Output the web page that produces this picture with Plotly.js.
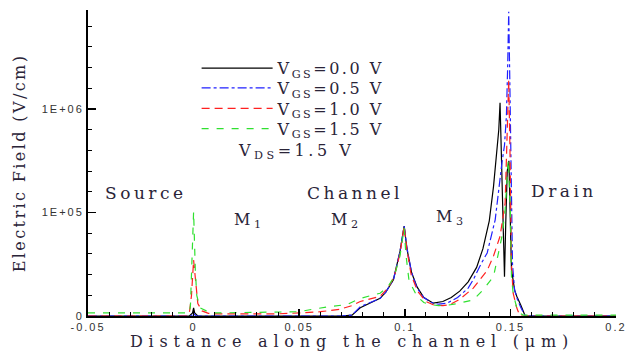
<!DOCTYPE html>
<html>
<head>
<meta charset="utf-8">
<script src="https://cdn.plot.ly/plotly-3.0.1.min.js"></script>
<style>
  html, body { margin: 0; padding: 0; background: #fff; }
  #chart { width: 637px; height: 351px; }
  .xtitle { letter-spacing: 5.8px; }
  .ytitle { letter-spacing: 2.4px; }
  .annotation-text { letter-spacing: 3.5px; }
  .legendtext, [class*="legend"] text { letter-spacing: 2.5px; }
  .xtick text, .ytick text { letter-spacing: 2px; }
</style>
</head>
<body>
<div id="chart"></div>
<script>
// Distance along the channel (um) and electric field (V/cm) for each gate bias
const x_vgs00 = [-0.05, -0.002, -0.0005, 0, 0.0005, 0.002, 0.07, 0.075, 0.0789, 0.0883, 0.091, 0.0946, 0.0977, 0.0997,
  0.101, 0.1032, 0.1058, 0.109, 0.1135, 0.118, 0.122, 0.126, 0.13, 0.134, 0.137, 0.14, 0.142,
  0.1435, 0.1445, 0.1451, 0.1458, 0.1465, 0.1472, 0.1478, 0.1485, 0.1493, 0.1505, 0.152, 0.153, 0.155, 0.157, 0.2];
const e_vgs00 = [1e4, 1e4, 1.07e4, 1.2e4, 1.07e4, 1e4, 1e4, 1.02e4, 1.2e4, 1.48e4, 1.7e4, 2.24e4, 4.17e4, 7.41e4,
  4.47e4, 2.63e4, 1.91e4, 1.51e4, 1.33e4, 1.38e4, 1.51e4, 1.74e4, 2.14e4, 2.95e4, 4.47e4, 8.32e4, 1.78e5,
  3.55e5, 6.31e5, 1.15e6, 3.16e5, 6.31e4, 2.4e4, 7.94e4, 2.51e5, 3.16e5, 2.82e4, 1.78e4, 1.55e4, 1.26e4, 1e4, 1e4];

const x_vgs05 = [-0.05, -0.001, 0, 0.001, 0.07, 0.075, 0.0789, 0.0883, 0.091, 0.0946, 0.0977, 0.0997,
  0.101, 0.1032, 0.1058, 0.109, 0.1125, 0.116, 0.12, 0.125, 0.13,
  0.1324, 0.136, 0.139, 0.1428, 0.1451, 0.146, 0.1472, 0.1481, 0.1487, 0.1492,
  0.1497, 0.1502, 0.151, 0.152, 0.1535, 0.155, 0.157, 0.2];
const e_vgs05 = [1e4, 1e4, 1.07e4, 1e4, 1e4, 1.02e4, 1.23e4, 1.48e4, 1.7e4, 2.24e4, 4.17e4, 7.41e4,
  4.57e4, 2.63e4, 1.86e4, 1.51e4, 1.35e4, 1.3e4, 1.33e4, 1.51e4, 1.86e4,
  2.24e4, 3.16e4, 4.07e4, 8.51e4, 2.19e5, 3.02e5, 4.47e5, 8.51e5, 2.51e6, 8.71e6,
  2.0e6, 3.16e5, 3.16e4, 1.78e4, 1.41e4, 1.2e4, 1e4, 1e4];

const x_vgs10 = [-0.05, -0.003, -0.002, -0.001, 0, 0.001, 0.002, 0.004, 0.007, 0.01,
  0.04, 0.05, 0.06, 0.069, 0.075, 0.0789, 0.0883, 0.092, 0.095, 0.0977,
  0.0997, 0.101, 0.103, 0.106, 0.11, 0.114, 0.118, 0.1214, 0.126, 0.1324,
  0.136, 0.139, 0.142, 0.1451, 0.1475, 0.148, 0.1488, 0.1492, 0.1498, 0.1505,
  0.1513, 0.153, 0.1545, 0.2];
const e_vgs10 = [1e4, 1e4, 1.07e4, 1.58e4, 3.47e4, 2.0e4, 1.32e4, 1.12e4, 1.06e4, 1.05e4,
  1.05e4, 1.07e4, 1.1e4, 1.16e4, 1.26e4, 1.38e4, 1.55e4, 1.86e4, 2.4e4, 3.98e4,
  7.41e4, 4.37e4, 2.51e4, 1.74e4, 1.38e4, 1.27e4, 1.26e4, 1.29e4, 1.45e4, 1.86e4,
  2.29e4, 2.75e4, 3.8e4, 5.89e4, 1.23e5, 3.16e5, 1.0e6, 1.91e6, 3.98e5, 3.16e4,
  1.66e4, 1.2e4, 1e4, 1e4];

const x_vgs15 = [-0.05, -0.002, -0.0015, -0.0008, 0, 0.0008, 0.0015, 0.003, 0.006, 0.01,
  0.05, 0.055, 0.064, 0.0727, 0.0789, 0.0883, 0.092, 0.095, 0.0977, 0.0997,
  0.1005, 0.102, 0.1058, 0.109, 0.112, 0.116, 0.12, 0.125, 0.1324, 0.137,
  0.142, 0.146, 0.1475, 0.149, 0.15, 0.1505, 0.1513, 0.153, 0.155, 0.156, 0.2];
const e_vgs15 = [1.07e4, 1.07e4, 1.26e4, 2.82e4, 1.02e5, 2.82e4, 1.58e4, 1.2e4, 1.12e4, 1.07e4,
  1.1e4, 1.15e4, 1.23e4, 1.29e4, 1.48e4, 1.66e4, 1.91e4, 2.4e4, 3.8e4, 7.08e4,
  3.98e4, 2.19e4, 1.55e4, 1.35e4, 1.29e4, 1.26e4, 1.27e4, 1.32e4, 1.43e4, 1.78e4,
  2.4e4, 5.89e4, 1.05e5, 3.24e5, 1.0e5, 2.4e4, 1.66e4, 1.2e4, 1.05e4, 1.02e4, 1.02e4];

const seriesNames = ['V<sub>GS</sub>=0.0 V', 'V<sub>GS</sub>=0.5 V', 'V<sub>GS</sub>=1.0 V', 'V<sub>GS</sub>=1.5 V'];
const xTickVals = [-0.05, 0, 0.05, 0.1, 0.15, 0.2];
const xTickText = ['-0.05', '0', '0.05', '0.1', '0.15', '0.2'];
const yTickVals = [1e4, 1e5, 1e6];
const yTickText = ['0', '1E+05', '1E+06'];
const regionLabels = ['Source', 'Channel', 'Drain', 'M<sub>1</sub>', 'M<sub>2</sub>', 'M<sub>3</sub>'];
const regionX = [-0.0225, 0.0764, 0.1752, 0.0267, 0.0726, 0.1223];
const regionY = [1.55e5, 1.55e5, 1.6e5, 8.3e4, 8.3e4, 8.9e4];
const biasNote = 'V<sub>DS</sub>=1.5 V';

const serif = 'DejaVu Serif, Liberation Serif, serif';
const textColor = '#2a2438';

const styles = [
  {color: '#000000', dash: 'solid'},
  {color: '#2020ff', dash: 'dashdot'},
  {color: '#ff2020', dash: '8px,5px'},
  {color: '#30e030', dash: '7px,8px'}
];
const xs = [x_vgs00, x_vgs05, x_vgs10, x_vgs15];
const es = [e_vgs00, e_vgs05, e_vgs10, e_vgs15];
const legendIds = ['legend', 'legend2', 'legend3', 'legend4'];
const legendRowY = [0.81, 0.745, 0.678, 0.612];

const traces = xs.map((x, i) => ({
  type: 'scatter', mode: 'lines', x: x, y: es[i], name: seriesNames[i], legend: legendIds[i],
  line: {color: styles[i].color, dash: styles[i].dash, width: 1.2}
}));

// minor ticks evenly spaced (5 per decade), as in the reference axis
const minorY = [];
for (let k = 0; k <= 15; k++) { if (k % 5 !== 0) minorY.push(Math.pow(10, 4 + 0.2 * k)); }

const annotations = regionLabels.map((t, i) => ({
  text: t, x: regionX[i], y: Math.log10(regionY[i]), xref: 'x', yref: 'y',
  showarrow: false, font: {family: serif, size: i < 3 ? 17 : 16, color: textColor}
}));
annotations.push({
  text: biasNote, x: 0.0485, y: Math.log10(3.85e5), xref: 'x', yref: 'y',
  showarrow: false, font: {family: serif, size: 16, color: textColor}
});

const layout = {
  width: 637, height: 351,
  margin: {l: 88, r: 21, t: 10, b: 35},
  paper_bgcolor: '#ffffff', plot_bgcolor: '#ffffff',
  showlegend: true,
  xaxis: {
    range: [-0.05, 0.2], tickmode: 'array', tickvals: xTickVals, ticktext: xTickText,
    ticks: 'inside', ticklen: 7, tickwidth: 1.5, tickcolor: '#000',
    showline: true, linewidth: 2, linecolor: '#000', mirror: false,
    showgrid: false, zeroline: false,
    minor: {dtick: 0.01, tick0: 0, ticks: 'inside', ticklen: 4, tickwidth: 1, tickcolor: '#000', showgrid: false},
    tickfont: {family: 'Liberation Sans, Arial, sans-serif', size: 11, color: '#333'},
    title: {text: 'Distance along the channel (μm)', font: {family: serif, size: 16, color: textColor}, standoff: 4},
    automargin: false
  },
  yaxis: {
    type: 'log', range: [4, 6.957], tickmode: 'array', tickvals: yTickVals, ticktext: yTickText,
    ticks: 'inside', ticklen: 8, tickwidth: 1.5, tickcolor: '#000',
    showline: true, linewidth: 2, linecolor: '#000', mirror: false,
    showgrid: false, zeroline: false,
    minor: {tickmode: 'array', tickvals: minorY, ticks: 'inside', ticklen: 4, tickwidth: 1, tickcolor: '#000', showgrid: false},
    tickfont: {family: 'Liberation Sans, Arial, sans-serif', size: 11, color: '#333'},
    title: {text: 'Electric Field (V/cm)', font: {family: serif, size: 16, color: textColor}, standoff: 12},
    automargin: false
  },
  annotations: annotations
};

legendIds.forEach((id, i) => {
  layout[id] = {
    x: 0.2057, y: legendRowY[i], xanchor: 'left', yanchor: 'middle',
    bgcolor: 'rgba(0,0,0,0)', borderwidth: 0,
    font: {family: serif, size: 16, color: textColor},
    itemwidth: 71
  };
});

Plotly.newPlot('chart', traces, layout, {staticPlot: true, displayModeBar: false}).then(gd => {
  gd.querySelectorAll('.legendtext').forEach(t => { t.style.letterSpacing = '2.5px'; });
  gd.querySelectorAll('.scrollbox').forEach(g => { g.removeAttribute('clip-path'); });
});
</script>
</body>
</html>
